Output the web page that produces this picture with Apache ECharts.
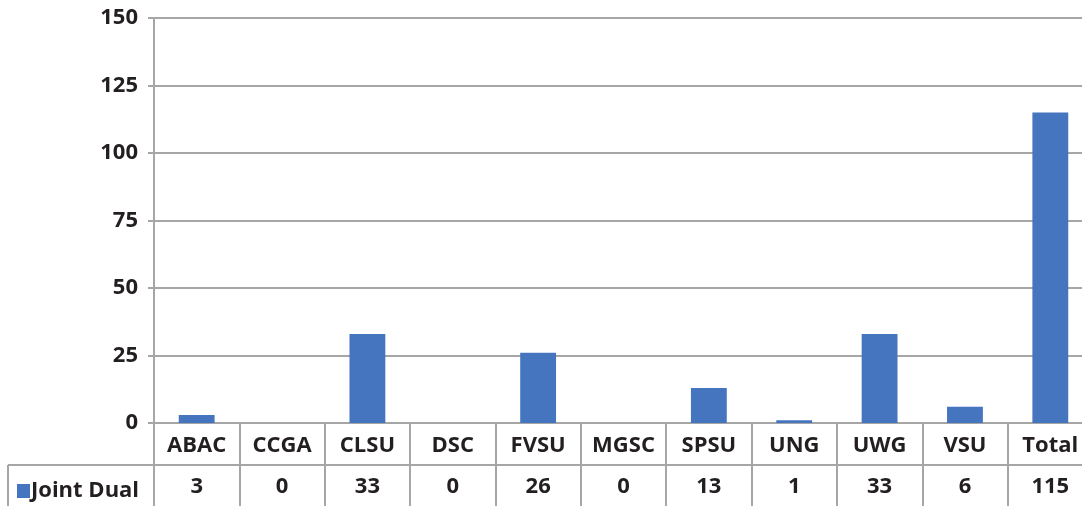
<!DOCTYPE html>
<html>
<head>
<meta charset="utf-8">
<script src="https://cdn.jsdelivr.net/npm/echarts@6/dist/echarts.min.js"></script>
<style>
    html, body { margin: 0; padding: 0; background: #fff; }
    #chart { width: 1082px; height: 506px; }
</style>
</head>
<body>
<div id="chart"></div>
<script>
const categories = ['ABAC', 'CCGA', 'CLSU', 'DSC', 'FVSU', 'MGSC', 'SPSU', 'UNG', 'UWG', 'VSU', 'Total']
const jointDual = [3, 0, 33, 0, 26, 0, 13, 1, 33, 6, 115]
const seriesName = 'Joint Dual'

const lineColor = '#a6a6a6'
const textColor = '#231f20'
const font = { fontFamily: 'Open Sans', fontWeight: 'bold', fontSize: 22, color: textColor }

const chart = echarts.init(document.getElementById('chart'))

const option = {
    animation: false,
    grid: { left: 154, top: 18, width: 939, bottom: 83, outerBoundsMode: 'none', containLabel: false },
    legend: {
        left: 12,
        top: 475,
        itemWidth: 13,
        itemHeight: 14,
        itemGap: 0,
        icon: 'rect',
        textStyle: { ...font, padding: [0, 0, 0, -4] },
        data: [seriesName]
    },
    xAxis: [
        {
            type: 'category',
            data: categories,
            position: 'bottom',
            axisLine: { lineStyle: { color: lineColor, width: 2 } },
            axisTick: { show: true, length: 83, lineStyle: { color: lineColor, width: 2 } },
            axisLabel: { ...font, margin: 12 }
        },
        {
            type: 'category',
            data: jointDual.map(String),
            position: 'bottom',
            offset: 42,
            axisLine: { lineStyle: { color: lineColor, width: 2 } },
            axisTick: { show: false },
            axisLabel: { ...font, margin: 11 }
        }
    ],
    yAxis: {
        type: 'value',
        min: 0,
        max: 150,
        interval: 25,
        axisLine: { show: true, lineStyle: { color: lineColor, width: 2 } },
        axisTick: { show: true, length: 6, lineStyle: { color: lineColor, width: 2 } },
        axisLabel: { ...font, margin: 16 },
        splitLine: { lineStyle: { color: lineColor, width: 2 } }
    },
    graphic: [
        { type: 'line', shape: { x1: 8, y1: 465, x2: 154, y2: 465 }, style: { stroke: lineColor, lineWidth: 2 } },
        { type: 'line', shape: { x1: 8, y1: 465, x2: 8, y2: 506 }, style: { stroke: lineColor, lineWidth: 2 } }
    ],
    series: [
        {
            name: seriesName,
            type: 'bar',
            barWidth: '42%',
            data: jointDual,
            itemStyle: { color: '#4675bf' }
        }
    ]
}

chart.setOption(option)
</script>
</body>
</html>
